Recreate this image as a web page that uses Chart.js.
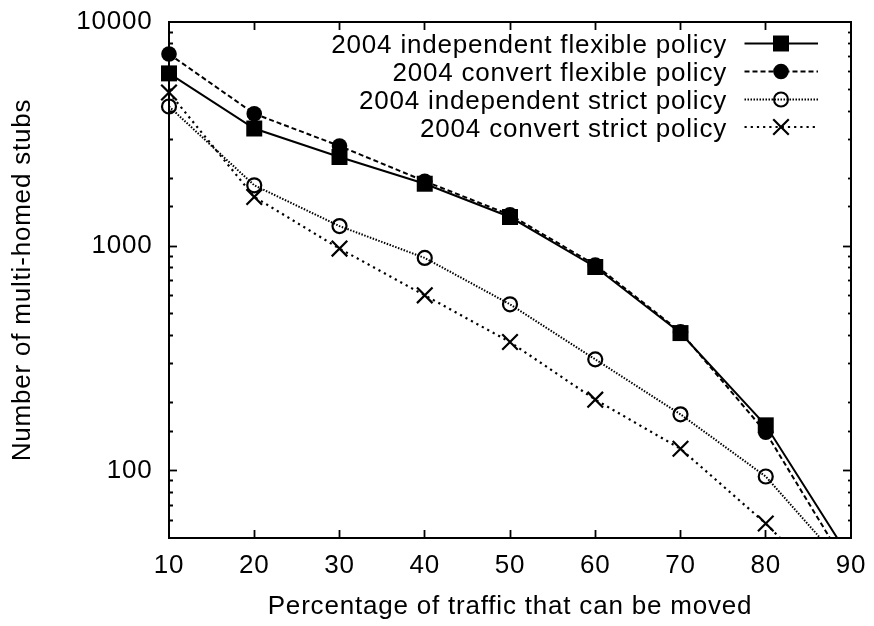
<!DOCTYPE html>
<html>
<head>
<meta charset="utf-8">
<style>
  html, body { margin: 0; padding: 0; background: #ffffff; }
  #wrap { width: 874px; height: 626px; position: relative; }
</style>
<script src="https://cdn.jsdelivr.net/npm/chart.js@4/dist/chart.umd.min.js"></script>
</head>
<body>
<div id="wrap"><canvas id="chart"></canvas></div>
<script>
// ---- data ----
const traffic = [10, 20, 30, 40, 50, 60, 70, 80, 90];
const indepFlexible = [5900, 3350, 2500, 1900, 1350, 808, 410, 159, 40];
const convertFlexible = [7200, 3900, 2800, 1950, 1380, 825, 415, 148, 35];
const indepStrict = [4200, 1870, 1230, 887, 551, 313, 178, 94, 35];
const convertStrict = [4850, 1660, 976, 604, 374, 207, 125, 58, 24];
const seriesNames = [
  '2004 independent flexible policy',
  '2004 convert flexible policy',
  '2004 independent strict policy',
  '2004 convert strict policy'
];
const xTickValues = [10, 20, 30, 40, 50, 60, 70, 80, 90];
const yTickLabels = [100, 1000, 10000];
const xTitle = 'Percentage of traffic that can be moved';
const yTitle = 'Number of multi-homed stubs';

const FONT = "'Liberation Sans', Arial, Helvetica, sans-serif";
const FS = 26;

function pts(ys) { return traffic.map((x, i) => ({ x: x, y: ys[i] })); }
function isDecade(v) { const l = Math.log10(v); return Math.abs(l - Math.round(l)) < 1e-9; }
function noPad(s) { s.paddingTop = 0; s.paddingBottom = 0; s.paddingLeft = 0; s.paddingRight = 0; }

const commonDs = {
  borderColor: '#000', pointBorderColor: '#000', tension: 0,
  clip: { left: 14, top: 14, right: 14, bottom: 0 }
};

const datasets = [
  Object.assign({}, commonDs, {
    label: seriesNames[0], data: pts(indepFlexible),
    borderWidth: 2, borderDash: [],
    pointStyle: 'rect', pointRadius: 11.3, pointBackgroundColor: '#000', pointBorderWidth: 0
  }),
  Object.assign({}, commonDs, {
    label: seriesNames[1], data: pts(convertFlexible),
    borderWidth: 2, borderDash: [5, 3],
    pointStyle: 'circle', pointRadius: 7.8, pointBackgroundColor: '#000', pointBorderWidth: 0
  }),
  Object.assign({}, commonDs, {
    label: seriesNames[2], data: pts(indepStrict),
    borderWidth: 2, borderDash: [1.5, 1.5],
    pointStyle: 'circle', pointRadius: 7, pointBackgroundColor: 'rgba(0,0,0,0)', pointBorderWidth: 2.2
  }),
  Object.assign({}, commonDs, {
    label: seriesNames[3], data: pts(convertStrict),
    borderWidth: 2.2, borderDash: [2.2, 4],
    pointStyle: 'crossRot', pointRadius: 11, pointBackgroundColor: 'rgba(0,0,0,0)', pointBorderWidth: 2.2
  })
];

const letterSpacingPlugin = {
  id: 'ls',
  beforeDraw(chart) { try { chart.ctx.letterSpacing = '0.8px'; } catch (e) {} }
};

const gnuLegend = {
  id: 'gnuLegend',
  afterDraw(chart) {
    const ctx = chart.ctx;
    const rows = [43.5, 71.5, 99.5, 127];
    const textRight = 727;
    const lx1 = 744.5, lx2 = 818, mx = 781;
    ctx.save();
    ctx.font = FS + 'px ' + FONT;
    ctx.fillStyle = '#000';
    ctx.textAlign = 'right';
    ctx.textBaseline = 'alphabetic';
    chart.data.datasets.forEach((ds, i) => {
      const y = rows[i];
      ctx.fillText(ds.label, textRight, y + 9.5);
      ctx.beginPath();
      ctx.setLineDash(ds.borderDash || []);
      ctx.lineWidth = ds.borderWidth;
      ctx.strokeStyle = '#000';
      ctx.moveTo(lx1, y);
      ctx.lineTo(lx2, y);
      ctx.stroke();
      ctx.setLineDash([]);
      ctx.fillStyle = ds.pointBackgroundColor;
      ctx.strokeStyle = '#000';
      Chart.helpers.drawPoint(ctx, {
        pointStyle: ds.pointStyle, radius: ds.pointRadius, rotation: 0,
        borderWidth: ds.pointBorderWidth
      }, mx, y);
      ctx.fillStyle = '#000';
    });
    ctx.restore();
  }
};

const tickFont = { family: FONT, size: FS };
const tickGridX = { display: true, drawOnChartArea: false, drawTicks: true, tickLength: -8, tickWidth: 1.8, tickColor: '#000' };

new Chart(document.getElementById('chart'), {
  type: 'line',
  data: { datasets: datasets },
  plugins: [letterSpacingPlugin, gnuLegend],
  options: {
    responsive: true,
    maintainAspectRatio: false,
    animation: false,
    devicePixelRatio: 1,
    layout: { padding: 0 },
    plugins: { legend: { display: false }, tooltip: { enabled: false }, title: { display: false } },
    scales: {
      x: {
        type: 'linear', position: 'bottom', min: 10, max: 90,
        afterBuildTicks: s => { s.ticks = xTickValues.map(v => ({ value: v })); },
        ticks: { font: tickFont, color: '#000', padding: 20, autoSkip: false, maxRotation: 0, callback: v => String(v) },
        grid: Object.assign({}, tickGridX, {
          tickColor: c => (c.tick && (c.tick.value === 10 || c.tick.value === 90) ? 'rgba(0,0,0,0)' : '#000')
        }),
        border: { display: true, color: '#000', width: 2 },
        title: { display: true, text: xTitle, font: tickFont, color: '#000', padding: { top: 0, bottom: 3.5 } },
        afterFit: s => { s.height = 88; noPad(s); }
      },
      x2: {
        type: 'linear', position: 'top', min: 10, max: 90,
        afterBuildTicks: s => { s.ticks = xTickValues.map(v => ({ value: v })); },
        ticks: { display: false },
        grid: Object.assign({}, tickGridX, {
          tickColor: c => (c.tick && (c.tick.value === 10 || c.tick.value === 90) ? 'rgba(0,0,0,0)' : '#000')
        }),
        border: { display: true, color: '#000', width: 2 },
        afterFit: s => { s.height = 22; noPad(s); }
      },
      y: {
        type: 'logarithmic', position: 'left', min: 50, max: 10000,
        ticks: {
          font: tickFont, color: '#000', padding: 24.5, autoSkip: false,
          callback: v => (yTickLabels.includes(Math.round(v)) ? String(Math.round(v)) : '')
        },
        grid: {
          display: true, drawOnChartArea: false, drawTicks: true, tickLength: -8, tickWidth: 1.8,
          tickColor: c => (c.tick && (c.tick.value === 50 || c.tick.value === 10000) ? 'rgba(0,0,0,0)' : '#000'),
          tickBorderDash: c => (c.tick && isDecade(c.tick.value) ? [] : [0, 4, 4, 100])
        },
        border: { display: true, color: '#000', width: 2 },
        title: { display: true, text: yTitle, font: tickFont, color: '#000', padding: { top: 7.5, bottom: 0 } },
        afterFit: s => { s.width = 169; noPad(s); }
      },
      y2: {
        type: 'logarithmic', position: 'right', min: 50, max: 10000,
        ticks: { display: false },
        grid: {
          display: true, drawOnChartArea: false, drawTicks: true, tickLength: -8, tickWidth: 1.8,
          tickColor: c => (c.tick && (c.tick.value === 50 || c.tick.value === 10000) ? 'rgba(0,0,0,0)' : '#000'),
          tickBorderDash: c => (c.tick && isDecade(c.tick.value) ? [] : [4, 100])
        },
        border: { display: true, color: '#000', width: 2 },
        afterFit: s => { s.width = 23; noPad(s); }
      }
    }
  }
});
</script>
</body>
</html>
